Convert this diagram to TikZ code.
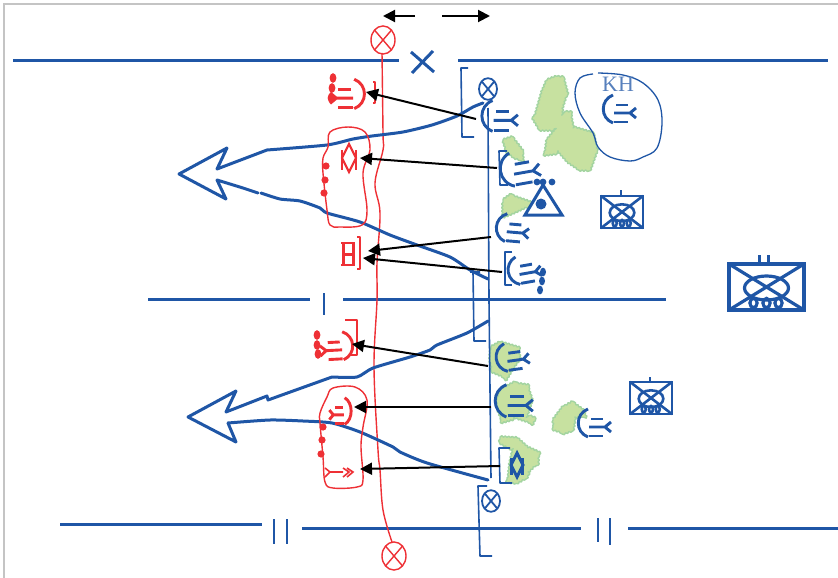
\documentclass[tikz,border=0pt]{standalone}
\usepackage{fontspec}
\setmainfont{Liberation Serif}
\usetikzlibrary{arrows.meta}
\usetikzlibrary{decorations.pathmorphing}
\definecolor{inkblue}{HTML}{1F56A6}
\definecolor{inkred}{HTML}{EE3035}
\definecolor{leaf}{HTML}{C7E1A0}
\definecolor{leafedge}{HTML}{A3D4A0}
\definecolor{framegray}{HTML}{C4C4C4}
\tikzset{
  phaseline/.style={draw=inkblue,line width=3pt},
  tickline/.style={draw=inkblue,line width=2.6pt},
  thinblue/.style={draw=inkblue,line width=1.6pt,line join=round},
  thinred/.style={draw=inkred,line width=1.4pt,line join=round},
  axisline/.style={draw=inkblue,line width=3pt,line join=round,line cap=round},
  firearrow/.style={black,line width=2pt,-{Triangle[length=12pt,width=12pt]}},
  blobshape/.style={fill=leaf,draw=leafedge,line width=1.4pt,line join=round,decorate,decoration={bumps,segment length=7pt,amplitude=1.4pt}},
  armsym/.pic={
    \draw[pic actions,line width=2.9pt] (-4,-15) .. controls (-17,-10) and (-17,8) .. (-4,13);
    \draw[pic actions,line width=2.9pt] (-1,-5) -- (11,-5) (-3,12) -- (11,12);
    \draw[pic actions,line width=2.9pt] (-3,3) -- (13,3) (19,-2) -- (13,3) -- (19,8);
  },
  hexsym/.pic={
    \draw[pic actions] (-7,-8) -- (-7,12) (7,-8) -- (7,12);
    \draw[pic actions] (0,-14) -- (-7,0) -- (0,14) -- (7,0) -- cycle;
  },
  xcircle/.pic={
    \draw[pic actions] (0,0) ellipse (1 and 1.2);
    \draw[pic actions] (-.7,-.84) -- (.7,.84) (.7,-.84) -- (-.7,.84);
  },
  tanksym/.pic={
    \draw[pic actions] (-37.5,-23) rectangle (37.5,23);
    \draw[pic actions] (-37.5,-23) -- (37.5,23) (37.5,-23) -- (-37.5,23);
    \draw[pic actions] (0,1) ellipse (22 and 12);
    \foreach \wx in {-13,0,12} {\draw[pic actions] (\wx,16) ellipse (3.6 and 4.6);}
  }
}
\begin{document}
\begin{tikzpicture}[x=1pt,y=-1pt]
\useasboundingbox (0,0) rectangle (838,578);
% frame
\draw[framegray,line width=1.6pt] (838,4) -- (4,4) -- (4,578);
%
% green patches
\draw[blobshape] (547,80) -- (555,77) -- (563,77) -- (567,92) -- (563,105) -- (562,112) -- (570,112) -- (573,127) -- (593,133) -- (597,150) -- (590,170) -- (580,170) -- (568,162) -- (560,153) -- (545,155) -- (547,140) -- (555,130) -- (540,130) -- (534,120) -- (542,92) -- cycle;
\draw[blobshape] (503,140) -- (512,137) -- (522,150) -- (523,160) -- (515,158) -- (507,152) -- cycle;
\draw[blobshape] (503,200) -- (510,195) -- (530,202) -- (530,205) -- (513,213) -- (503,217) -- (503,210) -- cycle;
\draw[blobshape] (491,347) -- (500,342) -- (517,347) -- (520,358) -- (513,368) -- (507,378) -- (493,372) -- (490,360) -- cycle;
\draw[blobshape] (500,390) -- (513,383) -- (527,385) -- (532,400) -- (527,415) -- (535,418) -- (533,423) -- (517,418) -- (503,422) -- (498,410) -- (497,400) -- cycle;
\draw[blobshape] (500,437) -- (517,438) -- (527,447) -- (538,452) -- (538,462) -- (530,470) -- (527,477) -- (517,483) -- (508,482) -- (510,463) -- (513,450) -- (500,443) -- cycle;
\draw[blobshape] (553,420) -- (562,408) -- (572,402) -- (583,410) -- (585,415) -- (575,417) -- (573,430) -- (565,433) -- (555,430) -- cycle;
%
% boundaries
\draw[phaseline] (13,61) -- (399,61) (458,61) -- (828,61);
\draw[phaseline] (148,299) -- (310,299) (343,299) -- (666,299);
\draw[phaseline] (60,524) -- (262,524) (302,528) -- (581,528) (628,528) -- (838,528);
\draw[phaseline] (411,52) -- (434,72) (433,51) -- (412,73);
\draw[tickline] (324,293) -- (324,315);
\draw[tickline] (274,519) -- (274,544) (287,519) -- (287,544);
\draw[tickline] (598,518) -- (598,542) (610,518) -- (610,545);
%
% forward line
\draw[thinred] plot[smooth,tension=.6] coordinates {(382,53) (383,133) (383,150) (375,183) (380,213) (377,263) (377,300) (374,367) (378,450) (380,470) (383,510) (392,542)};
\draw[thinblue] (488,108) -- (489,300) -- (491,478);
%
% brackets
\draw[thinblue] (468,68) -- (461,68) -- (462,137) -- (474,137);
\draw[thinblue] (470,272) -- (480,272) (473,272) -- (474,341) -- (486,341);
\draw[thinblue] (487,486) -- (478,486) -- (480,556) -- (492,556);
\draw[thinblue] (507,151) -- (499,151) -- (500,185) -- (508,185);
\draw[thinblue] (512,252) -- (505,252) -- (505,285) -- (512,285);
\draw[thinblue] (510,448) -- (499,448) -- (500,483) -- (512,483);
\draw[thinred] (373,82) -- (375,82) -- (375,103) -- (373,103);
\draw[thinred] (357,237) -- (360,237) -- (360,269) -- (357,269);
\draw[thinred] (345,320) -- (357,320) -- (357,355) -- (350,355);
%
% enemy axes
\draw[axisline] plot[smooth,tension=.4] coordinates {(483,103) (473,107) (457,116) (432,125) (403,132) (372,136) (353,139) (327,145) (267,150)} -- (217,169) -- (227,148) -- (179,174) -- (226,199) -- (217,180) -- (243,188) -- (258,193);
\draw[axisline] plot[smooth,tension=.4] coordinates {(261,193) (280,199) (300,201) (320,208) (327,213) (360,222) (390,235) (417,245) (450,257) (470,270) (488,279)};
\draw[axisline] plot[smooth,tension=.4] coordinates {(488,321) (467,333) (437,345) (430,350) (410,357) (373,368) (357,377) (332,377)} -- (268,400) -- (267,396) -- (226,412) -- (236,391) -- (188,417) -- (236,442) -- (228,423);
\draw[axisline] plot[smooth,tension=.4] coordinates {(228,423) (270,420) (303,421) (332,423) (360,432) (393,447) (400,452) (427,463) (488,480)};
%
% red capsules
\draw[thinred] plot[smooth cycle,tension=.6] coordinates {(330,132) (348,127) (365,132) (370,150) (363,173) (367,210) (362,225) (340,227) (330,225) (327,210) (323,173) (323,158) (328,147)};
\draw[thinred] plot[smooth cycle,tension=.6] coordinates {(327,397) (333,388) (355,387) (367,400) (363,427) (361,447) (363,480) (357,487) (333,488) (325,482) (323,457) (320,423) (320,413)};
\foreach \px/\py in {326/166,325/180,324/193,323/427,322/440,321/454} {
  \fill[inkred] (\px,\py) circle (3.6);
}
\foreach \px/\py in {333/78,332/88,331/98,317/335,317/345,318/354} {
  \fill[inkred] (\px,\py) ellipse (3.4 and 4.8);
}
%
% red symbols
\pic[draw=inkred,xscale=-1,scale=1.05] at (350,95) {armsym};
\pic[draw=inkred,xscale=-1,rotate=-3] at (339,347) {armsym};
\pic[draw=inkred,xscale=-.7,scale=.95] at (342,412) {armsym};
\pic[draw=inkred,line width=2.2pt] at (349,158) {hexsym};
\draw[inkred,line width=3pt] (343,243) -- (343,265) (353,243) -- (353,265) (343,254) -- (353,254);
\draw[inkred,line width=1.4pt] (341,243) -- (355,243) (341,265) -- (355,265);
\draw[inkred,line width=1.6pt] (325,468) -- (330,472) -- (325,477) (330,472) -- (343,472) (343,468) -- (349,472) -- (343,477) (347,468) -- (353,472) -- (347,477);
%
% blue symbols
\pic[draw=inkblue,scale=1.1] at (497,117) {armsym};
\pic[draw=inkblue,scale=1.2,rotate=10] at (517,170) {armsym};
\pic[draw=inkblue,rotate=-5] at (510,229) {armsym};
\pic[draw=inkblue,rotate=10] at (522,271) {armsym};
\pic[draw=inkblue,rotate=8] at (510,358) {armsym};
\pic[draw=inkblue,scale=1.15] at (511,402) {armsym};
\pic[draw=inkblue] at (617,110) {armsym};
\pic[draw=inkblue] at (592,424) {armsym};
\pic[draw=inkblue,line width=3pt,scale=.85] at (517,465) {hexsym};
\foreach \px/\py in {537/182,543/182,552/182} {
  \fill[inkblue] (\px,\py) circle (3.4);
}
\foreach \px/\py in {543/272,542/281,540/290} {
  \fill[inkblue] (\px,\py) ellipse (3 and 4.4);
}
\draw[inkblue,line width=3pt,line join=miter] (543,185) -- (525,215) -- (562,215) -- cycle;
\fill[inkblue] (541,204) circle (5.5);
%
% objectives
\pic[draw=inkred,line width=1.4pt,xscale=12,yscale=11.7] at (383,40) {xcircle};
\pic[draw=inkred,line width=1.4pt,xscale=12,yscale=11.7] at (394,556) {xcircle};
\pic[draw=inkblue,line width=1.8pt,xscale=9,yscale=9] at (488,89) {xcircle};
\pic[draw=inkblue,line width=1.8pt,xscale=9,yscale=9] at (491,501) {xcircle};
%
% reserve and KH
\draw[draw=inkblue,line width=1.3pt] plot[smooth,tension=.6] coordinates {(593,74) (580,78) (575,93) (580,113) (593,133) (598,147) (610,157) (630,161) (643,157) (657,148) (662,123) (658,100) (643,83) (623,75) (598,73)};
\node (khlabel) [text=inkblue!75,font=\fontsize{22}{24}\selectfont] at (618,84) {KH};
\pic[draw=inkblue,line width=3.2pt] at (766.5,287) {tanksym};
\draw[tickline,line width=3pt] (759,255) -- (759,264) (768,255) -- (768,264);
\pic[draw=inkblue,line width=2.6pt,xscale=.56,yscale=.7] at (622,212) {tanksym};
\draw[tickline] (621,190) -- (621,196);
\pic[draw=inkblue,line width=2.6pt,xscale=.56,yscale=.7] at (651,398) {tanksym};
\draw[tickline] (650,377) -- (650,382);
%
% fire arrows
\coordinate (f1a) at (476,119);
\coordinate (f1b) at (366,92);
\coordinate (f2a) at (497,168);
\coordinate (f2b) at (360,158);
\coordinate (f3a) at (491,237);
\coordinate (f3b) at (368,251);
\coordinate (f4a) at (502,272);
\coordinate (f4b) at (363,258);
\coordinate (f5a) at (488,366);
\coordinate (f5b) at (352,344);
\coordinate (f6a) at (491,407);
\coordinate (f6b) at (354,407);
\coordinate (f7a) at (500,466);
\coordinate (f7b) at (360,469);
\foreach \farrow in {1,...,7} {
  \draw[firearrow] (f\farrow a) -- (f\farrow b);
}
\coordinate (dirl) at (415,16);
\coordinate (dirlt) at (383,16);
\coordinate (dirr) at (442,16);
\coordinate (dirrt) at (490,16);
\draw[firearrow] (dirl) -- (dirlt);
\draw[firearrow] (dirr) -- (dirrt);
\end{tikzpicture}
\end{document}
